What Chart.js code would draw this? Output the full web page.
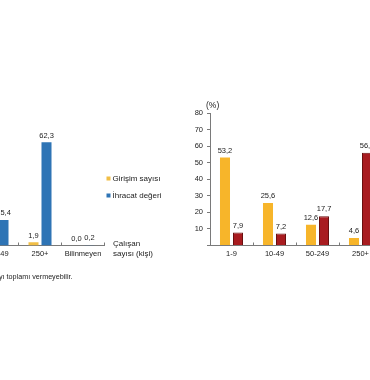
<!DOCTYPE html>
<html>
<head>
<meta charset="utf-8">
<script src="https://cdn.jsdelivr.net/npm/chart.js@4.4.1/dist/chart.umd.min.js"></script>
<style>
html, body { margin: 0; padding: 0; background: #fff; }
body { width: 370px; height: 380px; position: relative; overflow: hidden;
       font-family: "Liberation Sans", Arial, sans-serif; color: #222; }
#leftBox { position: absolute; left: -30px; top: 90px; width: 230px; height: 176px; }
#rightBox { position: absolute; left: 180px; top: 90px; width: 210px; height: 176px; }
.txt { position: absolute; font-size: 8px; line-height: 10px; white-space: nowrap; }
</style>
</head>
<body>
<div id="leftBox"><canvas id="leftChart"></canvas></div>
<div id="rightBox"><canvas id="rightChart"></canvas></div>
<div class="txt" style="left:113px; top:239px;">Çalışan<br>sayısı (kişi)</div>
<div class="txt" style="left:-1px; top:272px; font-size:7.2px;">yı toplamı vermeyebilir.</div>
<div class="txt" style="left:206px; top:100px; font-size:8.5px;">(%)</div>
<script>
// sol grafik (kesik görünen kısım)
const leftCategories = ['50-249', '250+', 'Bilinmeyen'];
const leftFirms = [null, 1.9, 0.0];
const leftExports = [15.4, 62.3, 0.2];

// sağ grafik
const rightCategories = ['1-9', '10-49', '50-249', '250+'];
const rightFirms = [53.2, 25.6, 12.6, 4.6];
const rightExports = [7.9, 7.2, 17.7, 56.0];

const seriesNames = ['Girişim sayısı', 'İhracat değeri'];
const yMax = 80;
const yStep = 10;

Chart.defaults.font.family = '"Liberation Sans", Arial, sans-serif';
Chart.defaults.font.size = 8;
Chart.defaults.color = '#222';

const axisColor = '#7a7a7a';

// bar üstü değer etiketleri
const valueLabels = {
    id: 'valueLabels',
    afterDatasetsDraw(chart) {
        const ctx = chart.ctx;
        ctx.save();
        ctx.font = '7.5px "Liberation Sans", Arial, sans-serif';
        ctx.fillStyle = '#222';
        ctx.textAlign = 'center';
        ctx.textBaseline = 'bottom';
        chart.data.datasets.forEach((ds, i) => {
            chart.getDatasetMeta(i).data.forEach((bar, j) => {
                const v = ds.data[j];
                if (v === null || v === undefined) return;
                ctx.fillText(v.toFixed(1).replace('.', ','), bar.x, bar.y - 3);
            });
        });
        ctx.restore();
    }
};

// grafiğin sağına yapışık küçük lejant
const sideLegend = {
    id: 'sideLegend',
    afterDraw(chart) {
        const ctx = chart.ctx;
        const area = chart.chartArea;
        const x = area.right + 2;
        ctx.save();
        ctx.font = '8px "Liberation Sans", Arial, sans-serif';
        ctx.textAlign = 'left';
        ctx.textBaseline = 'middle';
        chart.data.datasets.forEach((ds, i) => {
            const y = area.top + 65.5 + i * 17;
            ctx.fillStyle = ds.backgroundColor;
            ctx.fillRect(x, y - 2, 4, 4);
            ctx.fillStyle = '#222';
            ctx.fillText(ds.label, x + 6, y);
        });
        ctx.restore();
    }
};

function xAxis() {
    return {
        grid: { drawOnChartArea: false, tickLength: -3, color: axisColor },
        border: { color: axisColor },
        ticks: { padding: 7, font: { size: 7.5 } },
        afterFit: (s) => { s.height = 20.5; }
    };
}

var leftChart = new Chart(document.getElementById('leftChart'), {
    type: 'bar',
    data: {
        labels: leftCategories,
        datasets: [{
            label: seriesNames[0],
            data: leftFirms,
            backgroundColor: '#F1BE45',
            categoryPercentage: 0.605,
            barPercentage: 0.77
        }, {
            label: seriesNames[1],
            data: leftExports,
            backgroundColor: '#2E74B5',
            categoryPercentage: 0.605,
            barPercentage: 0.77
        }]
    },
    options: {
        responsive: true,
        maintainAspectRatio: false,
        animation: false,
        layout: { padding: { left: 5.5, top: 23, right: 95.5, bottom: 0 } },
        plugins: {
            tooltip: { enabled: false },
            legend: { display: false }
        },
        scales: {
            x: xAxis(),
            y: { display: false, min: 0, max: yMax }
        }
    },
    plugins: [valueLabels, sideLegend]
});

var rightChart = new Chart(document.getElementById('rightChart'), {
    type: 'bar',
    data: {
        labels: rightCategories,
        datasets: [{
            label: seriesNames[0],
            data: rightFirms,
            backgroundColor: '#F7B52A',
            categoryPercentage: 0.605,
            barPercentage: 0.77
        }, {
            label: seriesNames[1],
            data: rightExports,
            backgroundColor: '#A81C20',
            borderColor: '#6A1010',
            borderWidth: 1,
            categoryPercentage: 0.605,
            barPercentage: 0.77
        }]
    },
    options: {
        responsive: true,
        maintainAspectRatio: false,
        animation: false,
        layout: { padding: { left: 0, top: 23, right: 8, bottom: 0 } },
        plugins: {
            tooltip: { enabled: false },
            legend: { display: false }
        },
        scales: {
            x: xAxis(),
            y: {
                min: 0,
                max: yMax,
                ticks: {
                    stepSize: yStep,
                    padding: 4,
                    font: { size: 7.5 },
                    callback: (v) => (v === 0 ? '' : v)
                },
                grid: { drawOnChartArea: false, tickLength: 3, color: axisColor },
                border: { color: axisColor },
                afterFit: (s) => { s.width = 30; }
            }
        }
    },
    plugins: [valueLabels]
});
</script>
</body>
</html>
